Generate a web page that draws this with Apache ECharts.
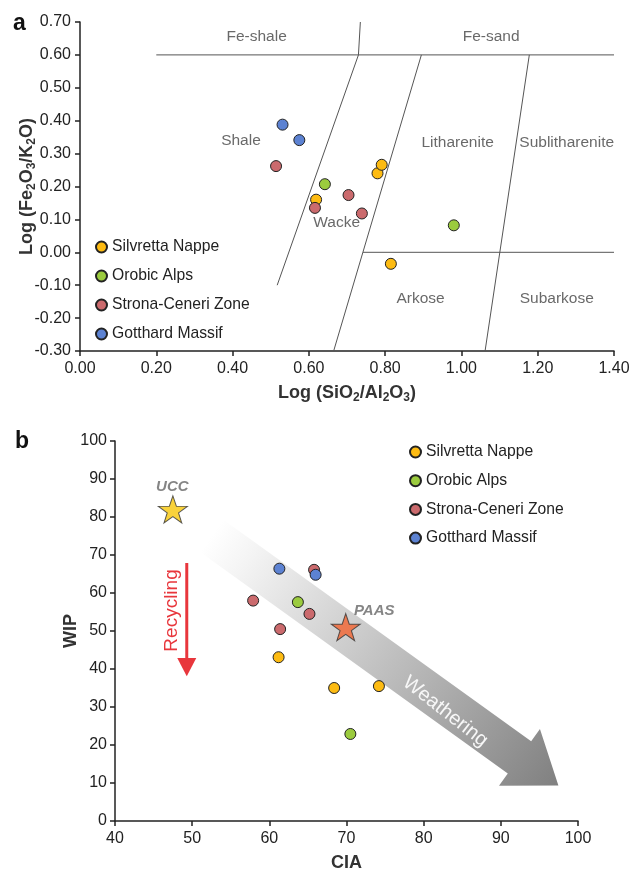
<!DOCTYPE html>
<html><head><meta charset="utf-8">
<script src="https://cdn.jsdelivr.net/npm/echarts@6/dist/echarts.min.js"></script>
<style>html,body{margin:0;padding:0;background:#fff}#c{width:641px;height:873px}</style>
</head><body><div id="c"></div>
<script>
const FONT = '"Liberation Sans", Arial, Helvetica, sans-serif';

const groups = ['Silvretta Nappe', 'Orobic Alps', 'Strona-Ceneri Zone', 'Gotthard Massif'];
const groupColors = ['#fdbb12', '#9bcb3e', '#cb6a6d', '#5c82d2'];

// Panel a: [log(SiO2/Al2O3), log(Fe2O3/K2O)]
const aSilvretta = [[0.619, 0.160], [0.780, 0.240], [0.791, 0.266], [0.815, -0.035]];
const aOrobic    = [[0.642, 0.207], [0.980, 0.082]];
const aStrona    = [[0.514, 0.262], [0.616, 0.135], [0.704, 0.174], [0.739, 0.118]];
const aGotthard  = [[0.531, 0.388], [0.575, 0.341]];

// Panel a classification boundaries
const bndFeShale  = [[0.20, 0.60], [1.40, 0.60]];
const bndFeVert   = [[0.735, 0.70], [0.730, 0.60]];
const bndShale    = [[0.730, 0.60], [0.517, -0.10]];
const bndWacke    = [[0.895, 0.60], [0.665, -0.30]];
const bndSublith  = [[1.178, 0.60], [1.062, -0.30]];
const bndArkose   = [[0.742, 0.00], [1.40, 0.00]];

// Panel a field names and where they sit
const fieldNames = ['Fe-shale', 'Fe-sand', 'Shale', 'Litharenite', 'Sublitharenite', 'Wacke', 'Arkose', 'Subarkose'];
const fieldPos   = [[0.463, 0.654], [1.078, 0.654], [0.422, 0.338], [0.990, 0.334], [1.276, 0.334], [0.673, 0.089], [0.893, -0.141], [1.250, -0.141]];

// Panel b: [CIA, WIP]
const bSilvretta = [[61.2, 43.1], [68.4, 35.0], [74.2, 35.5]];
const bOrobic    = [[63.7, 57.6], [70.5, 22.9]];
const bStrona    = [[57.9, 58.0], [61.4, 50.5], [65.2, 54.5], [65.8, 66.1]];
const bGotthard  = [[61.3, 66.4], [66.0, 64.8]];
const ucc  = [47.5, 82.0];
const paas = [69.9, 51.0];

// Panel b annotation arrows, in CIA/WIP units
const weatherBand = [[54.05, 79.3], [93.93, 21.0], [95.07, 24.2], [97.46, 9.35], [89.76, 9.3], [90.90, 12.5], [51.03, 70.8]];
const weatherGradFrom = [52.5, 75.0];
const weatherGradTo = [97.46, 9.35];
const weatherTextPos = [82.8, 28.8];
const recycleTop = [49.3, 67.9];
const recycleHeadBase = [49.3, 42.9];
const recycleTip = [49.3, 38.1];
const recycleTextPos = [47.4, 55.4];

const STAR = 'path://M50,0 L61.8,35.1 L98.1,35.1 L68.8,56.7 L79.4,90.5 L50,69.1 L20.6,90.5 L31.2,56.7 L1.9,35.1 L38.2,35.1 Z';

const axisCommon = {
  type: 'value',
  axisLine: { show: true, onZero: false, lineStyle: { color: '#222', width: 1.5 } },
  axisTick: { show: true, inside: false, length: 5, lineStyle: { color: '#222', width: 1.5 } },
  splitLine: { show: false },
  nameLocation: 'middle',
};
const labelStyle = { fontSize: 16, color: '#222', fontFamily: FONT };
const titleRich = {
  t: { fontSize: 18, fontWeight: 'bold', color: '#333', fontFamily: FONT },
  s: { fontSize: 12, fontWeight: 'bold', color: '#333', fontFamily: FONT, padding: [10, 0, 0, 0] }
};

const chart = echarts.init(document.getElementById('c'), null, { renderer: 'canvas' });

function scatterSeries(name, data, color, axis) {
  return {
    type: 'scatter', name, data, xAxisIndex: axis, yAxisIndex: axis,
    symbol: 'circle', symbolSize: 11, z: 5,
    itemStyle: { color, borderColor: '#222', borderWidth: 1, opacity: 1 },
    emphasis: { disabled: true }
  };
}
function boundary(data) {
  return {
    type: 'line', data, xAxisIndex: 0, yAxisIndex: 0, symbol: 'none', silent: true, z: 3,
    lineStyle: { color: '#555', width: 1 }, emphasis: { disabled: true }
  };
}

const legendCommon = {
  data: groups, orient: 'vertical', icon: 'circle', itemWidth: 11, itemHeight: 11,
  itemGap: 11, padding: 0, selectedMode: false,
  textStyle: { fontSize: 15.7, color: '#222', fontFamily: FONT, lineHeight: 18 }
};

const option = {
  animation: false,
  backgroundColor: '#fff',
  textStyle: { fontFamily: FONT },
  grid: [
    { left: 80, top: 22, right: 27, bottom: 522, containLabel: false },
    { left: 115, top: 441, right: 63, bottom: 51, containLabel: false }
  ],
  legend: [
    Object.assign({}, legendCommon, { left: 95, top: 238 }),
    Object.assign({}, legendCommon, { left: 409, top: 443, itemGap: 10.7 })
  ],
  xAxis: [
    Object.assign({}, axisCommon, {
      gridIndex: 0, min: 0, max: 1.4, interval: 0.2,
      axisLabel: Object.assign({ margin: 10, formatter: v => v.toFixed(2) }, labelStyle),
      name: '{t|Log (SiO}{s|2}{t|/Al}{s|2}{t|O}{s|3}{t|)}', nameGap: 31,
      nameTextStyle: { rich: titleRich }
    }),
    Object.assign({}, axisCommon, {
      gridIndex: 1, min: 40, max: 100, interval: 10,
      axisLabel: Object.assign({ margin: 10 }, labelStyle),
      name: 'CIA', nameGap: 33,
      nameTextStyle: { fontSize: 18, fontWeight: 'bold', color: '#333', fontFamily: FONT }
    })
  ],
  yAxis: [
    Object.assign({}, axisCommon, {
      gridIndex: 0, min: -0.3, max: 0.7, interval: 0.1,
      axisLabel: Object.assign({ margin: 9, formatter: v => v.toFixed(2) }, labelStyle),
      name: '{t|Log (Fe}{s|2}{t|O}{s|3}{t|/K}{s|2}{t|O)}', nameGap: 42, nameRotate: 90,
      nameMoveOverlap: false,
      nameTextStyle: { rich: titleRich }
    }),
    Object.assign({}, axisCommon, {
      gridIndex: 1, min: 0, max: 100, interval: 10,
      axisLabel: Object.assign({ margin: 8 }, labelStyle),
      name: 'WIP', nameGap: 35, nameRotate: 90,
      nameMoveOverlap: false,
      nameTextStyle: { fontSize: 18, fontWeight: 'bold', color: '#333', fontFamily: FONT }
    })
  ],
  series: [
    boundary(bndFeShale), boundary(bndFeVert), boundary(bndShale),
    boundary(bndWacke), boundary(bndSublith), boundary(bndArkose),
    {
      type: 'scatter', name: 'fields', xAxisIndex: 0, yAxisIndex: 0, silent: true, z: 4,
      symbolSize: 1, itemStyle: { color: 'rgba(0,0,0,0)' },
      data: fieldNames.map((n, i) => ({ name: n, value: fieldPos[i] })),
      label: { show: true, position: 'inside', formatter: p => p.name, fontSize: 15.5, color: '#444', fontFamily: FONT }
    },
    scatterSeries(groups[0], aSilvretta, groupColors[0], 0),
    scatterSeries(groups[1], aOrobic, groupColors[1], 0),
    scatterSeries(groups[2], aStrona, groupColors[2], 0),
    scatterSeries(groups[3], aGotthard, groupColors[3], 0),
    scatterSeries(groups[0], bSilvretta, groupColors[0], 1),
    scatterSeries(groups[1], bOrobic, groupColors[1], 1),
    scatterSeries(groups[2], bStrona, groupColors[2], 1),
    scatterSeries(groups[3], bGotthard, groupColors[3], 1),
    {
      type: 'scatter', name: 'UCC', data: [ucc], xAxisIndex: 1, yAxisIndex: 1, z: 6,
      symbol: STAR, symbolSize: [29, 27],
      itemStyle: { color: '#f8c70a', borderColor: '#333', borderWidth: 1 },
      label: { show: true, formatter: 'UCC', position: [14.5, -8.5], align: 'center', verticalAlign: 'middle',
               fontSize: 15, fontWeight: 'bold', fontStyle: 'italic', color: '#666', fontFamily: FONT }
    },
    {
      type: 'scatter', name: 'PAAS', data: [paas], xAxisIndex: 1, yAxisIndex: 1, z: 6,
      symbol: STAR, symbolSize: [29, 27],
      itemStyle: { color: '#f3632f', borderColor: '#333', borderWidth: 1 },
      label: { show: true, formatter: 'PAAS', position: [43.5, -2.5], align: 'center', verticalAlign: 'middle',
               fontSize: 15, fontWeight: 'bold', fontStyle: 'italic', color: '#666', fontFamily: FONT }
    }
  ]
};
chart.setOption(option);

const P = p => chart.convertToPixel({ gridIndex: 1 }, p);
const band = weatherBand.map(P);
const gF = P(weatherGradFrom), gT = P(weatherGradTo);
const wT = P(weatherTextPos);
const rTop = P(recycleTop), rBase = P(recycleHeadBase), rTip = P(recycleTip);
const rTxt = P(recycleTextPos);
const RED = '#e8363c';

chart.setOption({
  graphic: [
    { type: 'text', left: 13, top: 12, style: { text: 'a', font: 'bold 23px ' + FONT, fill: '#111' } },
    { type: 'text', left: 15, top: 430, style: { text: 'b', font: 'bold 23px ' + FONT, fill: '#111' } },
    {
      type: 'polygon', z: 1, silent: true,
      shape: { points: band },
      style: {
        fill: {
          type: 'linear', global: true, x: gF[0], y: gF[1], x2: gT[0], y2: gT[1],
          colorStops: [
            { offset: 0, color: 'rgba(255,255,255,1)' },
            { offset: 0.1, color: '#f4f4f4' },
            { offset: 1, color: '#808080' }
          ]
        }
      }
    },
    {
      type: 'text', z: 2, silent: true, x: wT[0], y: wT[1], rotation: -38 * Math.PI / 180,
      style: { text: 'Weathering', font: '20px ' + FONT, fill: '#f7f7f7',
               align: 'center', verticalAlign: 'middle', textAlign: 'center', textVerticalAlign: 'middle' }
    },
    {
      type: 'line', z: 2, silent: true,
      shape: { x1: rTop[0], y1: rTop[1], x2: rBase[0], y2: rBase[1] },
      style: { stroke: RED, lineWidth: 3 }
    },
    {
      type: 'polygon', z: 2, silent: true,
      shape: { points: [[rBase[0] - 9.5, rBase[1]], [rBase[0] + 9.5, rBase[1]], [rTip[0], rTip[1]]] },
      style: { fill: RED }
    },
    {
      type: 'text', z: 2, silent: true, x: rTxt[0], y: rTxt[1], rotation: Math.PI / 2,
      style: { text: 'Recycling', font: '19px ' + FONT, fill: RED,
               align: 'center', verticalAlign: 'middle', textAlign: 'center', textVerticalAlign: 'middle' }
    }
  ]
});
</script>
</body></html>
